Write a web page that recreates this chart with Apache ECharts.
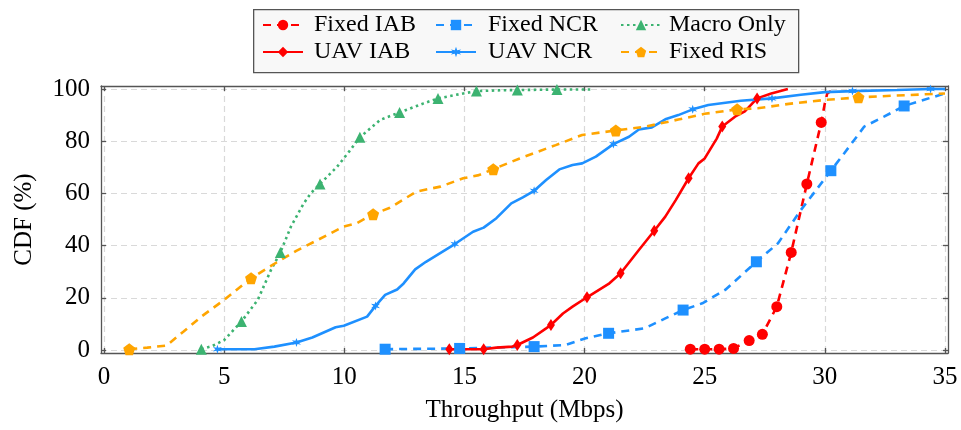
<!DOCTYPE html>
<html>
<head>
<meta charset="utf-8">
<title>CDF Throughput</title>
<script src="https://cdn.jsdelivr.net/npm/echarts@6.0.0/dist/echarts.min.js"></script>
<style>
  html, body { margin: 0; padding: 0; background: #fff; }
  #chart { width: 961px; height: 430px; }
</style>
</head>
<body>
<div id="chart"></div>
<script>
// 刻度
var xTicks = [0, 5, 10, 15, 20, 25, 30, 35];
var yTicks = [0, 20, 40, 60, 80, 100];

// 各曲线数据 [吞吐量 Mbps, CDF %]，marks 为显示标记的点序号
var fixedIAB = [[24.4, 0.3], [25.0, 0.3], [25.6, 0.3], [26.2, 0.6], [26.85, 3.6], [27.4, 6], [28.0, 16.6],
  [28.6, 37.4], [29.25, 63.6], [29.85, 87.2], [30.0, 94.5], [30.1, 98.3], [30.4, 100]];
var fixedIABMarks = [0, 1, 2, 3, 4, 5, 6, 7, 8, 9];

var fixedNCR = [[11.7, 0.3], [14.8, 0.6], [17.9, 1.3], [19.2, 1.9], [20.05, 4.5], [21.0, 6.4], [22.5, 8.3],
  [23.36, 12.1], [24.1, 15.3], [24.9, 17.9], [25.85, 23], [27.15, 33.8], [28.05, 40.9], [29.0, 53.6],
  [30.25, 68.7], [30.8, 75.3], [31.64, 85.6], [32.46, 89.4], [33.3, 93.5], [34.1, 95.8], [35, 98.3]];
var fixedNCRMarks = [0, 1, 2, 5, 8, 11, 14, 18];

var macroOnly = [[4.05, 0.3], [4.5, 1.5], [5.0, 3.8], [5.72, 10.9], [6.4, 19.2], [6.95, 30.7], [7.34, 37.4],
  [7.78, 47.3], [8.3, 56], [8.6, 60], [8.99, 63.6], [9.7, 70.2], [10.2, 76], [10.65, 81.5], [11.5, 88.2],
  [12.3, 91], [13.3, 94.5], [13.9, 96.4], [14.95, 98.3], [15.5, 99.2], [16.5, 99.5], [17.2, 99.6],
  [18.85, 99.8], [20.3, 99.8]];
var macroOnlyMarks = [0, 3, 6, 10, 13, 15, 17, 19, 21, 22];

var uavIAB = [[14.37, 0.3], [15.8, 0.3], [16.33, 0.9], [17.0, 1.3], [17.2, 1.9], [17.85, 4.8], [18.4, 8.3],
  [18.6, 9.6], [19.1, 14], [19.5, 16.6], [20.1, 20.2], [21.0, 25.3], [21.5, 29.4], [22.26, 38.3],
  [22.9, 45.7], [23.36, 51.1], [23.8, 57.5], [24.33, 65.8], [24.74, 71.5], [25.0, 73.4], [25.5, 81],
  [25.73, 85.6], [26.26, 89.4], [26.67, 91.4], [27.18, 96.4], [27.77, 98.3], [28.46, 100]];
var uavIABMarks = [0, 1, 4, 7, 10, 12, 14, 17, 21, 24];

var uavNCR = [[4.72, 0.3], [6.26, 0.3], [7.09, 1.3], [8.01, 2.9], [8.67, 4.8], [9.64, 8.7], [9.98, 9.3],
  [10.95, 12.8], [11.3, 16.9], [11.7, 21.1], [12.2, 23.2], [12.47, 25.5], [12.95, 30.9], [13.4, 33.8],
  [14.6, 40.6], [15.36, 45.3], [15.8, 46.9], [16.33, 50.5], [16.95, 56.2], [17.43, 58.5], [17.9, 61],
  [18.4, 65.1], [18.95, 69.2], [19.5, 70.9], [19.9, 71.5], [20.47, 74.1], [21.2, 78.9], [21.85, 81.7],
  [22.26, 84.5], [22.8, 85.3], [23.36, 88.4], [23.9, 90], [24.5, 92.2], [25.15, 93.9], [26.5, 95.5],
  [27.8, 96.4], [29, 97.8], [30, 98.8], [31.15, 99.2], [33, 99.6], [34.4, 100], [35, 100]];
var uavNCRMarks = [0, 3, 8, 14, 20, 26, 32, 35, 38, 40];

var fixedRIS = [[1.05, 0.3], [1.8, 0.9], [2.6, 1.7], [3.3, 7], [4.05, 12.8], [5.0, 19.2], [6.12, 27.5],
  [7.23, 33.8], [8.0, 38], [8.88, 42.1], [9.98, 47.3], [10.5, 48.5], [11.2, 52], [11.9, 54.5], [13.0, 60.7],
  [14.0, 62.6], [14.95, 65.8], [15.6, 67], [16.2, 69.3], [17.3, 73.4], [18.8, 78.5], [19.9, 82.4],
  [21.3, 84.1], [22.5, 85.5], [23.9, 88.3], [25.0, 90.5], [26.35, 92.2], [27.2, 92.6], [28.5, 94.3],
  [30, 95.8], [31.4, 96.8], [33, 97.5], [35, 98.3]];
var fixedRISMarks = [0, 6, 12, 18, 22, 26, 30];

var FONT = "'Liberation Serif', 'DejaVu Serif', serif";
var PENTAGON = 'path://M0,-10 L9.51,-3.09 L5.88,8.09 L-5.88,8.09 L-9.51,-3.09 Z';
var STAR = 'path://M0,-10 L2,-3.5 L8.7,-5 L4,0 L8.7,5 L2,3.5 L0,10 L-2,3.5 L-8.7,5 L-4,0 L-8.7,-5 L-2,-3.5 Z';

/*
功能：生成一条曲线
参数：name 名称；pts 数据；marks 标记点序号；color 颜色；dash 线型；symbol/size 标记
*/
function makeSeries(name, pts, marks, color, dash, symbol, size) {
  return {
    name: name,
    type: 'line',
    clip: false,
    symbol: symbol,
    symbolSize: size,
    showSymbol: true,
    animation: false,
    itemStyle: { color: color },
    lineStyle: { color: color, width: 2.6, type: dash },
    data: pts.map(function(p, i) {
      return marks.indexOf(i) >= 0 ? { value: p } : { value: p, symbol: 'none' };
    })
  };
}

// 坐标轴（上下左右四条，刻度朝内）
function makeAxis(pos, isX) {
  var main = (pos === 'bottom' || pos === 'left');
  return {
    type: 'value',
    position: pos,
    min: isX ? -0.125 : -1.15,
    max: isX ? 35.125 : 101.15,
    name: main ? (isX ? 'Throughput (Mbps)' : 'CDF (%)') : '',
    nameLocation: 'middle',
    nameGap: isX ? 45 : 64,
    nameTextStyle: { fontFamily: FONT, fontSize: 25, color: '#000' },
    axisLine: { show: true, onZero: false, lineStyle: { color: '#555', width: 1.3 } },
    axisTick: { show: true, inside: true, length: 5, customValues: isX ? xTicks : yTicks,
      lineStyle: { color: '#555', width: 1.3 } },
    axisLabel: { show: main, customValues: isX ? xTicks : yTicks, margin: isX ? 12 : 11,
      fontFamily: FONT, fontSize: 25, color: '#000' },
    splitLine: { show: main, lineStyle: { color: '#d9d9d9', width: 1.2, type: [6, 4] } }
  };
}

function makeLegend(names, left, pad) {
  return {
    data: names,
    orient: 'vertical',
    left: left,
    top: 13,
    padding: 0,
    itemGap: 3,
    itemWidth: 40,
    itemHeight: 13,
    textStyle: { fontFamily: FONT, fontSize: 24, color: '#000', padding: [0, 0, 0, pad] }
  };
}

var myChart = echarts.init(document.getElementById('chart'));
myChart.setOption({
  backgroundColor: '#fff',
  animation: false,
  grid: { left: 101, right: 13, top: 86, bottom: 77 },
  graphic: [{
    type: 'rect', left: 253, top: 9, z: -1,
    shape: { width: 545, height: 63 },
    style: { fill: '#f8f8f8', stroke: '#555', lineWidth: 1.3 }
  }],
  legend: [
    makeLegend(['Fixed IAB', 'UAV IAB'], 262, 6),
    makeLegend(['Fixed NCR', 'UAV NCR'], 435, 7),
    makeLegend(['Macro Only', 'Fixed RIS'], 620, 3)
  ],
  xAxis: [makeAxis('bottom', true), makeAxis('top', true)],
  yAxis: [makeAxis('left', false), makeAxis('right', false)],
  series: [
    makeSeries('Fixed IAB', fixedIAB, fixedIABMarks, '#ff0000', [8, 6], 'circle', 11),
    makeSeries('Fixed NCR', fixedNCR, fixedNCRMarks, '#1e90ff', [8, 6], 'rect', 11),
    makeSeries('Macro Only', macroOnly, macroOnlyMarks, '#3cb371', [2.5, 3.5], 'triangle', 11),
    makeSeries('UAV IAB', uavIAB, uavIABMarks, '#ff0000', 'solid', 'diamond', [8, 12]),
    makeSeries('UAV NCR', uavNCR, uavNCRMarks, '#1e90ff', 'solid', STAR, 9),
    makeSeries('Fixed RIS', fixedRIS, fixedRISMarks, '#ffa500', [8, 6], PENTAGON, 12)
  ]
});
</script>
</body>
</html>
